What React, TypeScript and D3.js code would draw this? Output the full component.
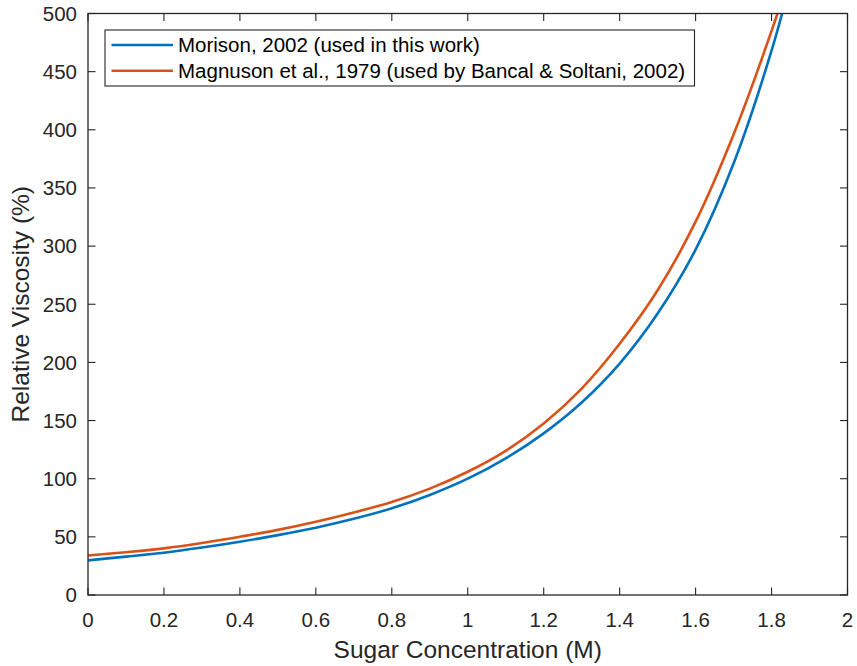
import React from "react";
import * as d3 from "d3";

const concentration = [0, 0.1, 0.2, 0.3, 0.4, 0.5, 0.6, 0.7, 0.8, 0.9, 1.0, 1.1, 1.2, 1.3, 1.4, 1.5, 1.6, 1.7, 1.8, 1.85];
const morison = [29.8, 33, 36.4, 40.8, 45.8, 51.5, 57.9, 65.5, 74.5, 86, 100, 117.5, 139, 165.5, 199, 242, 297, 371, 468, 528];
const magnuson = [34, 36.8, 40.1, 44.7, 50.1, 56, 63, 71, 80, 91.5, 106, 124, 147.5, 177.5, 216, 262, 321, 396, 485, 535];
const xTicks = [0, 0.2, 0.4, 0.6, 0.8, 1, 1.2, 1.4, 1.6, 1.8, 2];
const yTicks = [0, 50, 100, 150, 200, 250, 300, 350, 400, 450, 500];
const seriesNames = ["Morison, 2002 (used in this work)", "Magnuson et al., 1979 (used by Bancal & Soltani, 2002)"];
const seriesColors = ["#0072BD", "#D95319"];

export default function App() {
  const W = 857, H = 666;
  const L = 88, R = 847.5, T = 13.5, B = 595;
  const x = d3.scaleLinear().domain([0, 2]).range([L, R]);
  const y = d3.scaleLinear().domain([0, 500]).range([B, T]);
  const line = d3.line<number>()
    .x((_, i) => x(concentration[i]))
    .y((d) => y(d))
    .curve(d3.curveCatmullRom.alpha(0.5));
  const series = [morison, magnuson];
  const font = "'Liberation Sans', Arial, Helvetica, sans-serif";
  const axisColor = "#262626";
  const tickLen = 7.5;
  return (
    <svg width={W} height={H} style={{ position: "absolute", left: 0, top: 0, background: "#fff" }} fontFamily={font}>
      <defs>
        <clipPath id="plotclip">
          <rect x={L} y={T} width={R - L} height={B - T} />
        </clipPath>
      </defs>
      <rect x={0} y={0} width={W} height={H} fill="#fff" />
      <g clipPath="url(#plotclip)">
        {series.map((s, k) => (
          <path key={k} d={line(s) || ""} fill="none" stroke={seriesColors[k]} strokeWidth={2.6} />
        ))}
      </g>
      <rect x={L} y={T} width={R - L} height={B - T} fill="none" stroke={axisColor} strokeWidth={1.3} />
      {xTicks.map((t) => (
        <g key={"x" + t}>
          <line x1={x(t)} x2={x(t)} y1={B} y2={B - tickLen} stroke={axisColor} strokeWidth={1.1} />
          <line x1={x(t)} x2={x(t)} y1={T} y2={T + tickLen} stroke={axisColor} strokeWidth={1.1} />
          <text x={x(t)} y={626.5} textAnchor="middle" fontSize={20.5} fill={axisColor}>{String(t)}</text>
        </g>
      ))}
      {yTicks.map((t) => (
        <g key={"y" + t}>
          <line x1={L} x2={L + tickLen} y1={y(t)} y2={y(t)} stroke={axisColor} strokeWidth={1.1} />
          <line x1={R} x2={R - tickLen} y1={y(t)} y2={y(t)} stroke={axisColor} strokeWidth={1.1} />
          <text x={77} y={y(t) + 7.3} textAnchor="end" fontSize={20.5} fill={axisColor}>{String(t)}</text>
        </g>
      ))}
      <text x={(L + R) / 2} y={658} textAnchor="middle" fontSize={24.5} fill={axisColor}>Sugar Concentration (M)</text>
      <text transform={`translate(29,${(T + B) / 2}) rotate(-90)`} textAnchor="middle" fontSize={24.5} fill={axisColor}>Relative Viscosity (%)</text>
      <rect x={105} y={30} width={589.5} height={56} fill="#fff" stroke={axisColor} strokeWidth={1.1} />
      {seriesNames.map((n, k) => (
        <g key={n}>
          <line x1={111.5} x2={173} y1={45 + k * 25.7} y2={45 + k * 25.7} stroke={seriesColors[k]} strokeWidth={2.6} />
          <text x={178} y={45 + k * 25.7 + 7} fontSize={20.5} fill="#000">{n}</text>
        </g>
      ))}
    </svg>
  );
}
